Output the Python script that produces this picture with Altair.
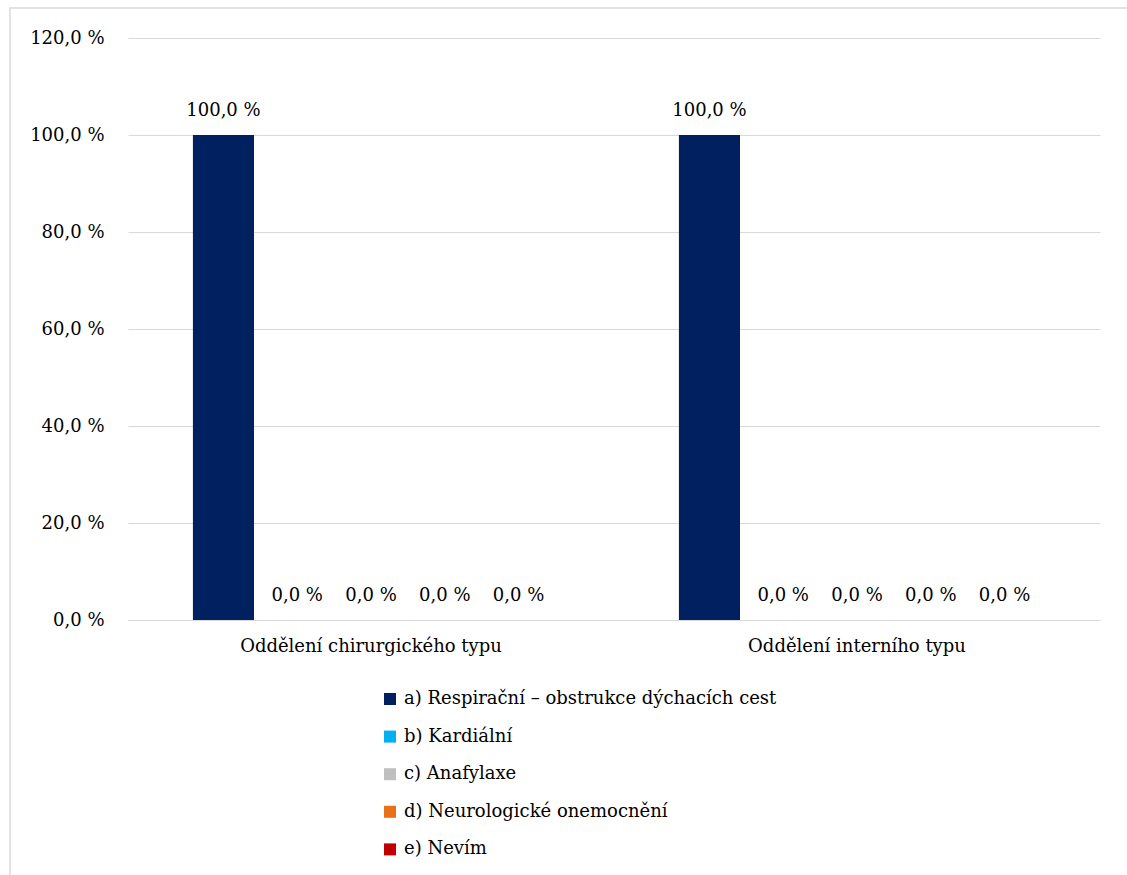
import altair as alt
import pandas as pd

# Share of answers per department type (percent)
departments = ["Oddělení chirurgického typu", "Oddělení interního typu"]
answers = [
    "a) Respirační – obstrukce dýchacích cest",
    "b) Kardiální",
    "c) Anafylaxe",
    "d) Neurologické onemocnění",
    "e) Nevím",
]
surgical = [100.0, 0.0, 0.0, 0.0, 0.0]
internal = [100.0, 0.0, 0.0, 0.0, 0.0]
colors = ["#002060", "#00b0f0", "#bfbfbf", "#e97116", "#c00000"]
y_ticks = [0, 20, 40, 60, 80, 100, 120]

rows = []
for dept, vals in zip(departments, [surgical, internal]):
    for ans, v in zip(answers, vals):
        rows.append({"oddeleni": dept, "odpoved": ans, "hodnota": v})
df = pd.DataFrame(rows)

FONT = "DejaVu Serif"
FS = 18
GRID = "#d9d9d9"
PCT = "replace(format({v}, '.1f'), '.', ',') + ' %'"

x_enc = alt.X("oddeleni:N", sort=departments, title=None,
              scale=alt.Scale(paddingInner=0, paddingOuter=0),
              axis=alt.Axis(labelAngle=0, ticks=False, grid=False, domainColor=GRID,
                            labelPadding=17, labelFontSize=FS, labelFont=FONT,
                            labelLimit=800, labelColor="#000000"))
xo_enc = alt.XOffset("odpoved:N", sort=answers,
                     scale=alt.Scale(paddingInner=0.172, paddingOuter=0.88))
y_enc = alt.Y("hodnota:Q", title=None,
              scale=alt.Scale(domain=[0, 120], nice=False),
              axis=alt.Axis(values=y_ticks, domain=False, ticks=False,
                            gridColor=GRID, labelPadding=24,
                            labelFontSize=FS, labelFont=FONT, labelColor="#000000",
                            labelExpr=PCT.format(v="datum.value")))

bars = alt.Chart(df).mark_bar().encode(
    x=x_enc,
    xOffset=xo_enc,
    y=y_enc,
    color=alt.Color("odpoved:N", sort=answers,
                    scale=alt.Scale(domain=answers, range=colors),
                    legend=alt.Legend(title=None, orient="none", legendX=253, legendY=652,
                                      direction="vertical", symbolType="square",
                                      symbolSize=144, symbolStrokeWidth=0,
                                      labelFont=FONT, labelFontSize=FS,
                                      labelColor="#000000", labelLimit=800,
                                      rowPadding=19.6, labelOffset=5)),
)

labels = alt.Chart(df).transform_calculate(
    txt=PCT.format(v="datum.hodnota")
).mark_text(baseline="alphabetic", dy=-19, font=FONT, fontSize=FS, color="#000000").encode(
    x=x_enc,
    xOffset=xo_enc,
    y=y_enc,
    text="txt:N",
)

# light outer frame around the whole figure
frame = alt.Chart(pd.DataFrame({"k": [0]})).mark_rect(
    fill=None, stroke=GRID, strokeWidth=1.5
).encode(x=alt.value(-118), x2=alt.value(1200), y=alt.value(-30), y2=alt.value(900))

chart = alt.layer(frame, bars, labels).properties(
    width=972, height=582, autosize="none",
    padding={"left": 128, "top": 38, "right": 27, "bottom": 255},
).configure(background="#ffffff").configure_view(strokeWidth=0, stroke=None)

chart.save("out.html", embed_options={"renderer": "svg", "actions": False})
